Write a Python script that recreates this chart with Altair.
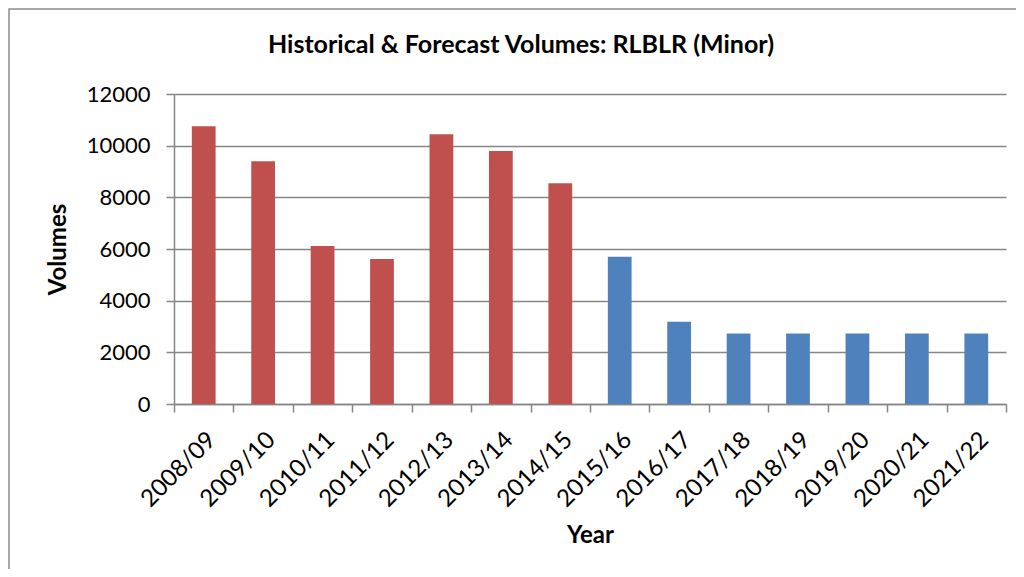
import altair as alt
import pandas as pd

years = ["2008/09", "2009/10", "2010/11", "2011/12", "2012/13", "2013/14", "2014/15",
         "2015/16", "2016/17", "2017/18", "2018/19", "2019/20", "2020/21", "2021/22"]
volumes = [10750, 9400, 6120, 5610, 10440, 9790, 8550,
           5700, 3180, 2730, 2730, 2730, 2730, 2730]
kinds = ["Historical"] * 7 + ["Forecast"] * 7
y_ticks = [0, 2000, 4000, 6000, 8000, 10000, 12000]
chart_title = "Historical & Forecast Volumes: RLBLR (Minor)"

df = pd.DataFrame({"Year": years, "Volumes": volumes, "Type": kinds})

FONT = "Lato"
GRAY = "#868686"

bars = alt.Chart(df).mark_bar(width=alt.RelativeBandSize(0.4)).encode(
    x=alt.X(
        "Year:N",
        sort=years,
        scale=alt.Scale(paddingInner=0, paddingOuter=0),
        axis=alt.Axis(
            title="Year",
            titleFont=FONT,
            titleFontSize=24,
            titleFontWeight="bold",
            titleColor="black",
            titleBaseline="middle",
            titleY=131,
            labelAngle=-45,
            labelAlign="right",
            labelBaseline="middle",
            labelOffset=8,
            labelFont=FONT,
            labelFontSize=24,
            labelColor="black",
            labelPadding=24,
            tickBand="extent",
            tickSize=8,
            tickColor=GRAY,
            tickWidth=1.5,
            domainColor=GRAY,
            domainWidth=1.5,
            grid=False,
        ),
    ),
    y=alt.Y(
        "Volumes:Q",
        scale=alt.Scale(domain=[0, 12000]),
        axis=alt.Axis(
            title="Volumes",
            values=y_ticks,
            format="d",
            titleFont=FONT,
            titleFontSize=24,
            titleFontWeight="bold",
            titleColor="black",
            titleBaseline="middle",
            titleX=-116,
            labelFont=FONT,
            labelFontSize=22,
            labelColor="black",
            labelPadding=16,
            tickSize=8,
            tickColor=GRAY,
            tickWidth=1.5,
            domainColor=GRAY,
            domainWidth=1.5,
            grid=True,
            gridColor=GRAY,
            gridWidth=1.5,
        ),
    ),
    color=alt.Color(
        "Type:N",
        scale=alt.Scale(domain=["Historical", "Forecast"], range=["#C0504D", "#4F81BD"]),
        legend=None,
    ),
)

one_row = pd.DataFrame({"f": [0]})

frame = alt.Chart(one_row).mark_rect(
    fillOpacity=0, stroke="#8c8c8c", strokeWidth=1.5
).encode(
    x=alt.value(-165),
    x2=alt.value(900),
    y=alt.value(-85),
    y2=alt.value(500),
)

title_text = alt.Chart(one_row).mark_text(
    font=FONT, fontSize=25, fontWeight="bold", color="black",
    align="center", baseline="middle",
).encode(
    x=alt.value(347),
    y=alt.value(-49),
    text=alt.value(chart_title),
)

chart = alt.layer(bars, frame, title_text).properties(
    width=832,
    height=310,
    autosize=alt.AutoSizeParams(type="none"),
    padding={"left": 166, "top": 86, "right": 10, "bottom": 165},
).configure_view(strokeWidth=0)

chart.save("out.html", embed_options={"renderer": "svg", "actions": False})
